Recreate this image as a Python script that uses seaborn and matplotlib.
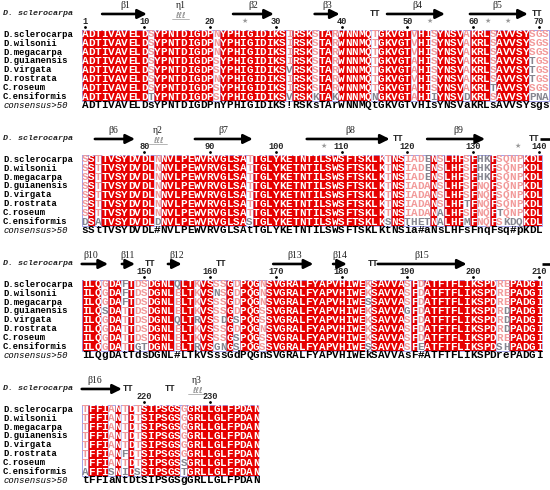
import collections
import numpy as np
import pandas as pd
import seaborn as sns
import matplotlib.pyplot as plt
from matplotlib.colors import ListedColormap
from matplotlib.patches import Rectangle

# sequences of the alignment, one list per printed block
species = ["D.sclerocarpa", "D.wilsonii", "D.megacarpa", "D.guianensis",
           "D.virgata", "D.rostrata", "C.roseum", "C.ensiformis"]

block1 = [
    "ADTIVAVELDSYPNTDIGDPNYPHIGIDIKSIRSKSTARWNNMQTGKVGTVHISYNSVAKRLSAVVSYSGS",
    "ADTIVAVELDSYPNTDIGDPNYPHIGIDIKSIRSKSTARWNNMQTGKVGTVHISYNSVAKRLSAVVSYSGS",
    "ADTIVAVELDSYPNTDIGDPNYPHIGIDIKSIRSKSTARWNNMQTGKVGTVHISYNSVAKRLSAVVSYSGS",
    "ADTIVAVELDSYPNTDIGDPSYPHIGIDIKSIRSKSTARWNNMQTGKVGTAHISYNSVAKRLSAVVSYTGS",
    "ADTIVAVELDSYPNTDIGDPSYPHIGIDIKSVRSKSTARWNNMQTGKVGTAHISYNSVAKRLSAVVSYTGS",
    "ADTIVAVELDSYPNTDIGDPNYPHIGIDIKSIRSKSTARWNNMQTGKVGTVHISYNSVAKRLSAVVSYTGS",
    "ADTIVAVELDSYPNTDIGDPSYPHIGIDIKSIRSKSTARWNNMQTGKVGTAHISYNSVAKRLTAVVSYSGS",
    "ADTIVAVELDTYPNTDIGDPSYPHIGIDIKSVRSKKTAKWNNMQNGKVGTAHIIYNSVDKRLSAVVSYPNA",
]
cons1 = "ADTIVAVELDsYPNTDIGDPnYPHIGIDIKS!RSKsTArWNNMQtGKVGTvHIsYNSVaKRLsAVVSYsgs"

block2 = [
    "SSTTVSYDVDLNNVLPEWVRVGLSATTGLYKETNTILSWSFTSKLKTNSIADENSLHFSFHKFSQNPKDL",
    "SSTTVSYDVDLNNVLPEWVRVGLSATTGLYKETNTILSWSFTSKLKTNSIADENSLHFSFHKFSQNPKDL",
    "SSTTVSYDVDLNNVLPEWVRVGLSATTGLYKETNTILSWSFTSKLKTNSIADENSLHFSFHKFSQNPKDL",
    "SSTTVSYDVDLNNVLPEWVRVGLSATTGLYKETNTILSWSFTSKLKTNSIADANSLHFSFNQFSQNPKDL",
    "SSTTVSYDVDLNNVLPEWVRVGLSATTGLYKETNTILSWSFTSKLKTNSIADANSLHFSFNQFSQNPKDL",
    "SSTTVSYDVDLNNVLPEWVRVGLSATTGLYKETNTILSWSFTSKLKTNSIADANSLHFTFNQFSQNPKDL",
    "SSTTVSYDVDLNNVLPEWVRVGLSATTGLYKETNTILSWSFTSKLKTNSIADANALHFSFNQFTQNPKDL",
    "DSATVSYDVDLDNVLPEWVRVGLSASTGLYKETNTILSWSFTSKLKSNSTHETNALHFMFNQFSKDQKDL",
]
cons2 = "sStTVSYDVDL#NVLPEWVRVGLSAtTGLYKETNTILSWSFTSKLKtNSia#aNsLHFsFnqFsq#pKDL"

block3 = [
    "ILQGDAFTDSDGNLQLTKVSSSGDPQGNSVGRALFYAPVHIWEKSAVVASFDATFTFLIKSPDREPADGI",
    "ILQGDAFTDSDGNLELTKVSNSGDPQGNSVGRALFYAPVHIWEKSAVVASFDATFTFLIKSPDREPADGI",
    "ILQGDAFTDSDGNLELTKVSSSGDPQGNSVGRALFYAPVHIWESSAVVASFDATFTFLIKSPDREPADGI",
    "ILQSDATTDSDGNLELTKVSSSGDPQGSSVGRALFYAPVHIWEKSAVVAGFDATFTFLIKSPDRDPADGI",
    "ILQGDATTDSDGNLQLTRVSSDGSPQGSSVGRALFYAPVHIWEKSAVVASFDATFTFLIKSPDRDPADGI",
    "ILQGDATTDSDGNLELTKVSSSGDPQGNSVGRALFYAPVHIWEKSAVVASFDATFTFLIKSPDRDPADGI",
    "ILQGDATTDSDGNLELTKVSSSGSPQGSSVGRALFYAPVHIWEKSAVVASFDATFTFLIKSPDREPADGI",
    "ILQGDATTGTDGNLELTRVSGNGSPQGSSVGRALFYAPVHIWESSAVVASFEATFTFLIKSPDSHPADGI",
]
cons3 = "ILQgDAtTdsDGNL#LTkVSssGdPQGnSVGRALFYAPVHIWEkSAVVAsF#ATFTFLIKSPDrePADGI"

block4 = [
    "TFFIANTDTSIPSGSGGRLLGLFPDAN",
    "TFFIANTDTSIPSGSGGRLLGLFPDAN",
    "TFFIANTDTSIPSGSGGRLLGLFPDAN",
    "TFFIANTDTSIPSGSGGRLLGLFPDAN",
    "TFFIANTDTSIPSGSGGRLLGLFPDAN",
    "TFFIANFDTSIPSGSGGRLLGLFPDAN",
    "TFFIANTDTSIPSGSSGRLLGLFPDAN",
    "AFFISNIDSSIPSGSTGRLLGLFPDAN",
]
cons4 = "tFFIaNtDtSIPSGSgGRLLGLFPDAN"

# residue numbering
start1, nums1 = 1, [1, 10, 20, 30, 40, 50, 60, 70]
start2, nums2 = 71, [80, 90, 100, 110, 120, 130, 140]
start3, nums3 = 141, [150, 160, 170, 180, 190, 200, 210]
start4, nums4 = 211, [220, 230]

# secondary structure of D. sclerocarpa (strand: label, from, to, label pos)
strands1 = [("β1", 3.1, 9.9, 6.7), ("β2", 23.0, 29.2, 26.0), ("β3", 35.4, 39.2, 37.3),
            ("β4", 46.4, 55.2, 51.0), ("β5", 59.0, 67.8, 63.1)]
turns1 = [44.6, 69.2]
helices1 = [("η1", 15.0)]
stars1 = [24.8, 52.9, 61.7, 64.8]
dashes1 = []

strands2 = [("β6", 2.0, 8.1, 4.8), ("β7", 17.2, 26.0, 21.5), ("β8", 34.2, 46.8, 40.8),
            ("β9", 52.5, 61.3, 57.2)]
turns2 = [48.1, 68.7]
helices2 = [("η2", 11.6)]
stars2 = [36.7, 66.2]
dashes2 = [(69.7, 71.2)]

strands3 = [("β10", 0.0, 4.0, 1.3), ("β11", 6.1, 8.1, 7.0), ("β12", 13.1, 15.2, 14.5),
            ("β13", 29.1, 35.2, 32.4), ("β14", 38.2, 40.3, 39.3), ("β15", 45.0, 58.5, 51.7)]
turns3 = [10.4, 21.2, 44.3]
helices3 = []
stars3 = []
dashes3 = [(70.0, 71.2)]

strands4 = [("β16", 0.0, 6.1, 2.0)]
turns4 = [7.0, 13.4]
helices4 = [("η3", 17.5)]
stars4 = []
dashes4 = []

RED = "#e60000"
PINK = "#f29a9a"
GRAY = "#85858f"
BLUE = "#9c9ce8"
MONO = "Liberation Mono"

sns.set_theme(style="white")
plt.rcParams["font.family"] = ["DejaVu Sans"]

fig = plt.figure(figsize=(5.5, 4.9), dpi=100)


def draw_block(k, rows, cons, start, nums, strands, turns, helices, stars, dashes):
    top = 125 * k
    ax = fig.add_axes([0, 1 - (top + 124.6) / 490, 1, 124.6 / 490])
    n = len(rows[0])
    grid = np.array([list(r) for r in rows])
    conserved = np.array([len(set(grid[:, j])) == 1 for j in range(n)])
    mask = pd.DataFrame(np.tile(conserved.astype(int), (len(rows), 1)), index=species)
    sns.heatmap(mask, cmap=ListedColormap(["white", RED]), vmin=0, vmax=1, cbar=False,
                xticklabels=False, yticklabels=False, ax=ax)
    ax.set_xlim(-12.42, 71.17)
    ax.set_ylim(10.65, -3.35)
    ax.axis("off")

    # residues
    for i, r in enumerate(rows):
        for j, ch in enumerate(r):
            if conserved[j]:
                col = "white"
            else:
                cnt = collections.Counter(grid[:, j])
                col = PINK if cnt[ch] == max(cnt.values()) else GRAY
            ax.text(j + 0.5, i + 0.5, ch, ha="center", va="center", fontsize=7.9,
                    family=MONO, weight="bold", color=col)
        ax.text(-11.96, i + 0.5, species[i], ha="left", va="center", fontsize=6.4,
                family=MONO, weight="bold", color="black")

    # frames around the block and around the non-identical columns
    j = 0
    while j < n:
        if not conserved[j]:
            e = j
            while e < n and not conserved[e]:
                e += 1
            ax.add_patch(Rectangle((j, 0), e - j, len(rows), fill=False, ec=BLUE, lw=0.4))
            j = e
        else:
            j += 1
    ax.add_patch(Rectangle((0, 0), n, len(rows), fill=False, ec=BLUE, lw=0.6))

    # consensus
    for j, ch in enumerate(cons):
        ax.text(j + 0.5, 8.5, ch, ha="center", va="center", fontsize=7.9,
                family=MONO, weight="bold", color="black")
    ax.text(-11.96, 8.5, "consensus>50", ha="left", va="center", fontsize=6.4,
            family=MONO, style="italic", color="black")

    # secondary structure line
    ax.text(-11.96, -1.78, "D. sclerocarpa", ha="left", va="center", fontsize=6.0,
            family=MONO, weight="bold", style="italic")
    for num in nums:
        c = num - start + 0.5
        ax.text(c, -0.95, str(num), ha="center", va="center", fontsize=6.2,
                family=MONO, weight="bold")
        ax.plot(c, -0.32, marker="o", ms=1.0, color="black")
    for lab, x0, x1, xl in strands:
        ax.annotate("", xy=(x1, -1.78), xytext=(x0, -1.78),
                    arrowprops=dict(arrowstyle="-|>,head_length=0.9,head_width=0.45",
                                    lw=1.9, color="black", shrinkA=0, shrinkB=0,
                                    mutation_scale=6))
        ax.text(xl, -2.7, lab, ha="center", va="center", fontsize=7,
                family="Liberation Serif", color="#222222")
    for x in turns:
        ax.text(x, -1.85, "TT", ha="center", va="center", fontsize=6.4,
                family=MONO, weight="bold")
    for lab, x in helices:
        ax.text(x, -1.62, "ℓℓℓ", ha="center", va="center", fontsize=6, color="#777777")
        ax.plot([x - 1.3, x + 1.3], [-1.2, -1.2], lw=0.5, color="#999999")
        ax.text(x, -2.7, lab, ha="center", va="center", fontsize=7,
                family="Liberation Serif", color="#222222")
    for x in stars:
        ax.text(x, -0.95, "★", ha="center", va="center", fontsize=5, color="#999999")
    for x0, x1 in dashes:
        ax.plot([x0, x1], [-1.78, -1.78], lw=1.9, color="black", solid_capstyle="butt")


draw_block(0, block1, cons1, start1, nums1, strands1, turns1, helices1, stars1, dashes1)
draw_block(1, block2, cons2, start2, nums2, strands2, turns2, helices2, stars2, dashes2)
draw_block(2, block3, cons3, start3, nums3, strands3, turns3, helices3, stars3, dashes3)
draw_block(3, block4, cons4, start4, nums4, strands4, turns4, helices4, stars4, dashes4)

fig.savefig("out.png", dpi=100)
